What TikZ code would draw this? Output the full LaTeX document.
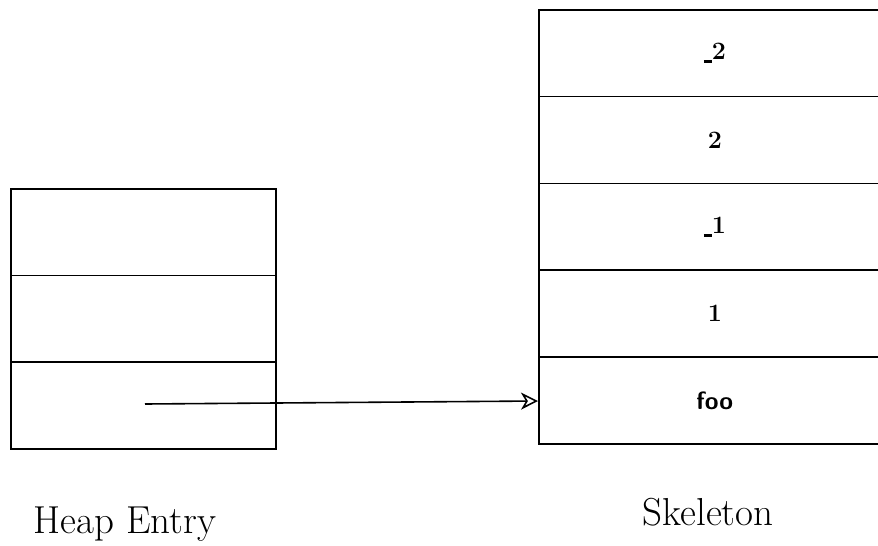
\documentclass[tikz,border=0pt]{standalone}
\usetikzlibrary{arrows.meta}
\newcommand{\lowdash}{\rule{0.32em}{0.13em}}
\begin{document}
\begin{tikzpicture}[x=1pt,y=-1pt,
  cellL/.style={draw,line width=1.6pt,rectangle,inner sep=0pt,minimum width=265pt,minimum height=86.7pt,anchor=north west},
  cellR/.style={draw,line width=1.6pt,rectangle,inner sep=0pt,minimum width=352pt,minimum height=86.8pt,anchor=north west,font=\fontsize{25}{29}\selectfont\bfseries},
  title/.style={font=\fontsize{39}{44}\selectfont,anchor=base},
  ptr/.style={line width=1.6pt,-{Stealth[open,length=17pt,width=17pt,inset=5pt]}}]
\useasboundingbox (0,0) rectangle (878,546);
\clip (0,0) rectangle (878,546);
% Heap entry
\node[cellL] (h1) at (10,188) {};
\node[cellL] (h2) at (10,274.7) {};
\node[cellL] (h3) at (10,361.4) {};
% Skeleton
\node[cellR] (s1) at (538,9) {\lowdash\raisebox{0.15em}{2}};
\node[cellR] (s2) at (538,95.8) {2};
\node[cellR] (s3) at (538,182.6) {\lowdash\raisebox{0.15em}{1}};
\node[cellR] (s4) at (538,269.4) {1};
\node[cellR,font=\fontsize{25}{29}\selectfont\sffamily\bfseries] (s5) at (538,356.2) {foo};
% pointer
\coordinate (p0) at (145,404);
\coordinate (p1) at (538,401);
\draw[ptr] (p0) -- (p1);
% titles
\node[title] (lh) at (125,533) {Heap Entry};
\node[title] (ls) at (708,525) {Skeleton};
\end{tikzpicture}
\end{document}
